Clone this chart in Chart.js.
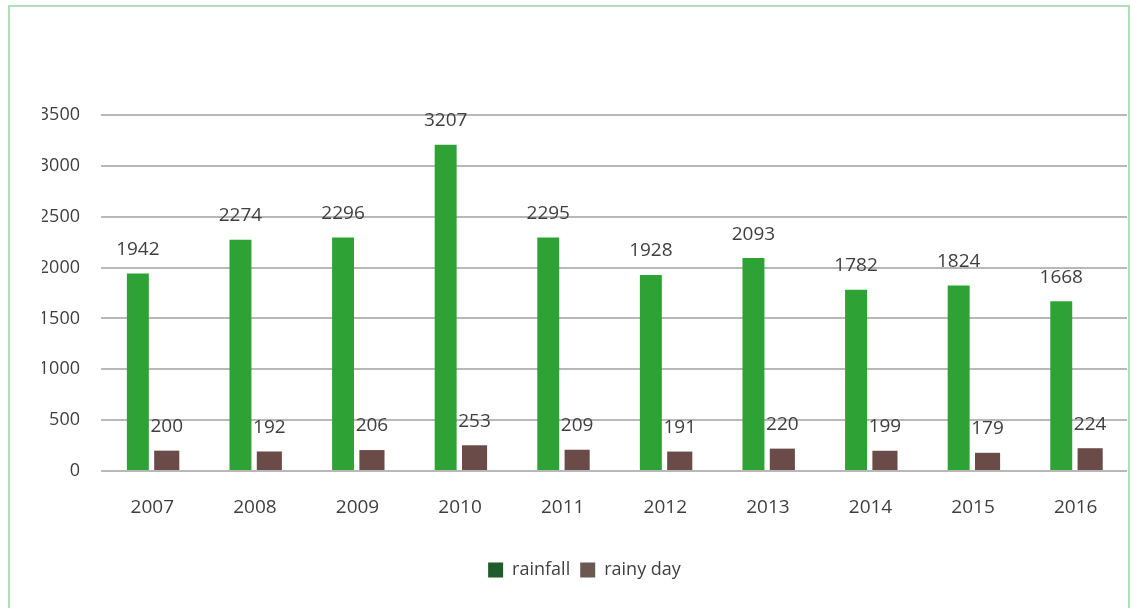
<!DOCTYPE html>
<html>
<head>
<meta charset="utf-8">
<script src="https://cdn.jsdelivr.net/npm/chart.js@4"></script>
<style>
    html, body { margin: 0; padding: 0; background: #fff; }
    body { width: 1132px; height: 608px; overflow: hidden; position: relative; }
    #frame {
        position: absolute; left: 8px; top: 5px; width: 1122px; height: 640px;
        border: 2px solid #b3dcbc; box-sizing: border-box;
    }
    #wrap { position: absolute; left: 0; top: 0; width: 1132px; height: 608px; }
</style>
</head>
<body>
<div id="frame"></div>
<div id="wrap"><canvas id="chart"></canvas></div>
<script>
const years = ['2007', '2008', '2009', '2010', '2011', '2012', '2013', '2014', '2015', '2016'];
const rainfall = [1942, 2274, 2296, 3207, 2295, 1928, 2093, 1782, 1824, 1668];
const rainyDays = [200, 192, 206, 253, 209, 191, 220, 199, 179, 224];
const seriesNames = ['rainfall', 'rainy day'];

const FONT = '"Open Sans", "Noto Sans", sans-serif';
const TEXT = '#3f3f3f';

// value labels above every bar
const barLabels = {
    id: 'barLabels',
    afterDatasetsDraw(chart) {
        const ctx = chart.ctx;
        ctx.save();
        ctx.font = '19px ' + FONT;
        ctx.fillStyle = TEXT;
        ctx.textAlign = 'center';
        ctx.textBaseline = 'middle';
        chart.data.datasets.forEach((ds, di) => {
            chart.getDatasetMeta(di).data.forEach((bar, i) => {
                ctx.fillText(ds.data[i], bar.x, bar.y - 24);
            });
        });
        ctx.restore();
    }
};

new Chart(document.getElementById('chart'), {
    type: 'bar',
    data: {
        labels: years,
        datasets: [
            {
                label: seriesNames[0],
                data: rainfall,
                backgroundColor: '#2fa236',
                barPercentage: 0.76
            },
            {
                label: seriesNames[1],
                data: rainyDays,
                backgroundColor: '#6b4b47',
                barPercentage: 0.87
            }
        ]
    },
    options: {
        responsive: true,
        maintainAspectRatio: false,
        animation: false,
        datasets: { bar: { categoryPercentage: 0.563 } },
        layout: { padding: { left: 42, right: 5, top: 115, bottom: 19 } },
        scales: {
            x: {
                grid: { display: false },
                border: { display: false },
                ticks: { color: TEXT, font: { family: FONT, size: 19 }, padding: 17 },
                afterFit: (scale) => { scale.height = 80; }
            },
            y: {
                min: 0,
                max: 3500,
                grid: { color: '#b8b8b8', lineWidth: 2, drawTicks: false },
                border: { display: false },
                ticks: {
                    stepSize: 500,
                    color: TEXT,
                    font: { family: FONT, size: 18 },
                    padding: 21,
                    callback: (v) => String(v)
                },
                afterFit: (scale) => { scale.width = 59; }
            }
        },
        plugins: {
            tooltip: { enabled: false },
            legend: {
                position: 'bottom',
                labels: {
                    color: TEXT,
                    font: { family: FONT, size: 18 },
                    boxWidth: 15,
                    boxHeight: 15,
                    padding: 10,
                    generateLabels: (chart) => {
                        const legendColors = ['#1f5b2b', '#6b5853'];
                        return chart.data.datasets.map((ds, i) => ({
                            text: ds.label,
                            fillStyle: legendColors[i],
                            strokeStyle: legendColors[i],
                            lineWidth: 0,
                            fontColor: TEXT,
                            datasetIndex: i
                        }));
                    }
                }
            }
        }
    },
    plugins: [barLabels]
});
</script>
</body>
</html>
